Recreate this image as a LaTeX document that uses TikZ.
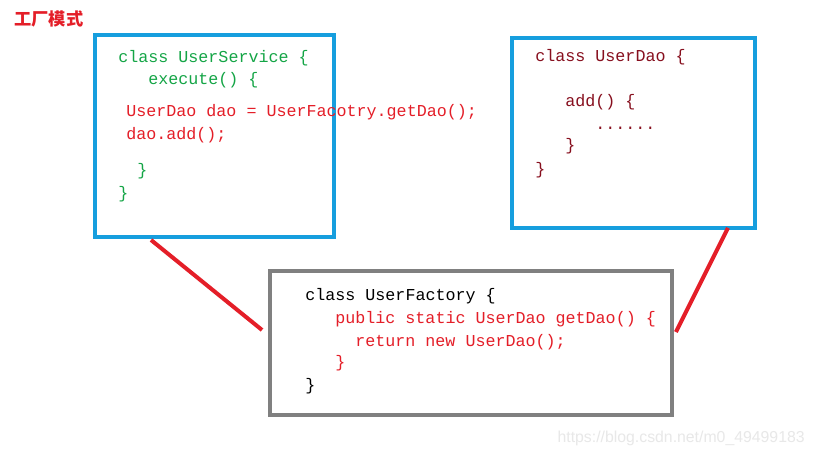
\documentclass[tikz,border=0pt]{standalone}
\usepackage{fontspec}
\setmonofont{Liberation Mono}
\setsansfont{Liberation Sans}
\newfontfamily\cjk{Noto Sans CJK SC}
\usepackage{xcolor}
\definecolor{fblue}{RGB}{22,158,222}
\definecolor{fgray}{RGB}{128,128,128}
\definecolor{fred}{RGB}{228,30,40}
\definecolor{fgreen}{RGB}{20,165,70}
\definecolor{fmaroon}{RGB}{135,15,30}
\definecolor{fmark}{RGB}{232,232,232}
\usetikzlibrary{calc}
\tikzset{
  codebox/.style={draw=#1, line width=0.08cm, fill=white},
  code/.style={anchor=base west, inner sep=0pt, text=#1,
               font=\ttfamily\fontsize{9.5}{11}\selectfont},
  link/.style={draw=fred, line width=0.08cm},
}
\begin{document}
\begin{tikzpicture}[x=0.02cm, y=-0.02cm]
\useasboundingbox[fill=white] (0,0) rectangle (815,456);
% Title
\node[anchor=north west, inner sep=0pt, text=fred, font=\cjk\bfseries\fontsize{9.8}{11}\selectfont] (title) at (14,10) {工厂模式};
% Boxes
\node[codebox=fblue, minimum width=4.78cm, minimum height=4.04cm] (svc) at (214.5,136) {};
\node[codebox=fblue, minimum width=4.86cm, minimum height=3.8cm] (dao) at (633.5,133) {};
\node[codebox=fgray, minimum width=8.04cm, minimum height=2.88cm] (fac) at (471,343) {};
% UserService
\node[code=fgreen] (svc1) at (118,63) {class UserService \{};
\node[code=fgreen] (svc2) at (148,85) {execute() \{};
\node[code=fred] (svc3) at (126,117) {UserDao dao = UserFacotry.getDao();};
\node[code=fred] (svc4) at (126,140) {dao.add();};
\node[code=fgreen] (svc5) at (137,175) {\}};
\node[code=fgreen] (svc6) at (118,198) {\}};
% UserDao
\node[code=fmaroon] (dao1) at (535,62) {class UserDao \{};
\node[code=fmaroon] (dao2) at (565,107) {add() \{};
\node[code=fmaroon] (dao3) at (595,130) {......};
\node[code=fmaroon] (dao4) at (565,151) {\}};
\node[code=fmaroon] (dao5) at (535,174) {\}};
% UserFactory
\node[code=black] (fac1) at (305,300) {class UserFactory \{};
\node[code=fred] (fac2) at (335,323) {public static UserDao getDao() \{};
\node[code=fred] (fac3) at (355,346) {return new UserDao();};
\node[code=fred] (fac4) at (335,367) {\}};
\node[code=black] (fac5) at (305,390) {\}};
% Links
\draw[link] ($(svc.south west)+(58,1)$) -- ($(fac.west)+(-6,-13)$);
\draw[link] ($(dao.south east)+(-29,-2)$) -- ($(fac.east)+(2,-11)$);
% Watermark
\node[anchor=east, inner sep=0pt, text=fmark, font=\sffamily\fontsize{9}{11}\selectfont] (mark) at (805,438) {https://blog.csdn.net/m0\_49499183};
\end{tikzpicture}
\end{document}
